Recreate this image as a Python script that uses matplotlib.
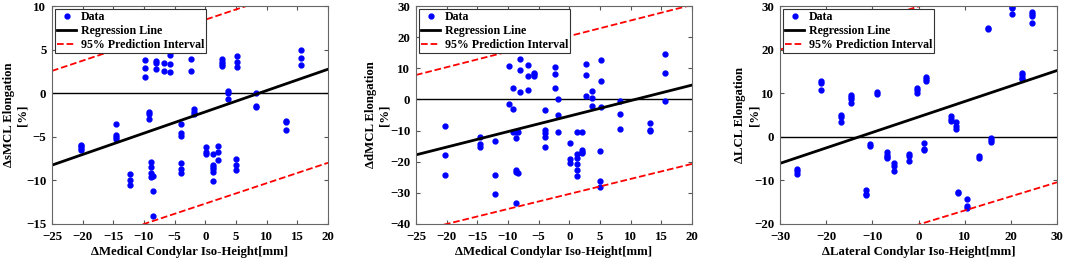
import numpy as np
import matplotlib.pyplot as plt

# panel 1: sMCL vs medial condylar iso-height
x1 = [-20.2]*4 + [-14.5]*4 + [-12.2]*3 + [-9.8]*3 + [-9.2]*3 + [-8.8]*4 + [-8.5]*3 + [-8.1]*3 \
     + [-6.8]*2 + [-5.7]*3 + [-4.0]*6 + [-2.4]*2 + [-1.8]*3 + [0.1]*3 + [1.2]*6 + [2.1]*3 \
     + [2.7]*4 + [3.7]*3 + [5.0]*3 + [5.2]*3 + [8.2]*3 + [13.2]*3 + [15.6]*3
y1 = [-5.9, -6.1, -6.3, -6.5, -3.5, -4.75, -5.0, -5.2, -9.3, -9.95, -10.5, 3.8, 2.85, 1.9,
      -2.2, -2.4, -3.0, -7.85, -8.5, -9.1, -9.65, -9.55, -11.2, -14.1, 3.65, 3.5, 2.8,
      3.46, 2.6, 4.35, 3.35, 2.4, -3.5, -4.6, -4.87, -8.0, -8.7, -9.2, 3.9, 2.5,
      -1.85, -2.1, -2.4, -6.2, -6.8, -7.0, -7.0, -8.2, -8.5, -8.75, -9.0, -10.1,
      -6.05, -6.8, -7.7, 3.9, 3.6, 3.35, 3.15, 0.2, 0.0, -0.65, -7.55, -8.2, -8.8,
      4.3, 3.6, 3.05, 0.0, -1.45, -1.6, -3.15, -3.35, -4.2, 5.0, 4.05, 3.25]
fit1 = [0.2444, -2.14]
upper1 = [0.235, 8.43]
lower1 = [0.234, -12.66]

# panel 2: dMCL vs medial condylar iso-height
x2 = [-20.2]*3 + [-14.5]*3 + [-12.2]*3 + [-9.9]*2 + [-9.2]*3 + [-8.7]*5 + [-8.4]*2 + [-8.0]*3 \
     + [-6.8]*3 + [-5.7]*3 + [-3.9]*5 + [-2.4]*3 + [-1.8]*3 + [0.1]*3 + [1.2]*6 + [2.1]*4 \
     + [2.7]*3 + [3.7]*3 + [5.0]*3 + [5.2]*3 + [8.2]*3 + [13.2]*3 + [15.6]*3
y2 = [-8.6, -17.8, -24.4, -12.0, -14.3, -15.4, -13.3, -24.4, -30.5, 10.8, -1.5,
      3.6, -3.2, -10.4, -10.4, -12.3, -22.8, -23.3, -33.4, -10.4, -23.5, 12.9, 9.45, 2.4,
      11.05, 7.5, 2.9, 8.6, 8.2, 7.5, -3.5, -9.8, -10.7, -12.0, -15.2, 10.5, 8.2, 3.6,
      0.1, -5.1, -10.5, -14.1, -19.2, -20.5, -10.5, -17.4, -18.9, -20.7, -22.7, -24.6,
      -10.5, -16.2, -16.8, -17.1, 11.4, 8.0, 1.1, 2.7, 0.35, -2.2, -16.5, -26.3, -28.1,
      12.7, 5.8, -2.3, -0.6, -4.8, -9.5, -7.6, -9.8, -10.2, 14.6, 8.4, -0.4]
fit2 = [0.498, -5.35]
upper2 = [0.5, 20.35]
lower2 = [0.4825, -30.35]

# panel 3: LCL vs lateral condylar iso-height
x3 = [-26.4]*3 + [-21.1]*3 + [-16.8]*3 + [-14.7]*4 + [-11.3]*3 + [-10.6]*2 + [-8.9]*2 + [-6.8]*4 \
     + [-5.3]*3 + [-2.1]*3 + [-0.4]*3 + [1.1]*3 + [1.7]*3 + [7.0]*3 + [8.2]*3 + [8.5]*2 \
     + [10.5]*3 + [13.2]*2 + [15.0]*2 + [15.6]*3 + [20.2]*3 + [22.4]*4 + [24.5]*4
y3 = [-7.4, -7.8, -8.6, 12.8, 12.3, 10.7, 5.0, 4.5, 3.4, 9.5, 9.05, 8.7, 7.8,
      -12.2, -13.1, -13.3, -1.7, -2.0, 10.35, 9.9, -3.6, -4.2, -4.55, -4.8, -6.1, -6.6, -7.8,
      -4.0, -4.5, -5.5, 11.3, 10.7, 10.0, -1.35, -2.8, -3.1, 13.7, 13.3, 12.7,
      4.85, 4.15, 3.7, 3.5, 2.5, 1.9, -12.7, -13.0, -14.3, -15.8, -16.4, -4.4, -4.85,
      25.0, 24.65, -0.2, -0.65, -1.1, 29.85, 29.5, 28.1, 14.7, 14.1, 13.6, 13.2,
      28.7, 28.2, 27.7, 26.0]
fit3 = [0.355, 4.55]
upper3 = [0.33, 29.9]
lower3 = [0.323, -20.13]

panels = [
    (x1, y1, fit1, upper1, lower1, (-25, 20), (-15, 10), np.arange(-25, 21, 5), np.arange(-15, 11, 5),
     '\u0394Medical Condylar Iso-Height[mm]', '\u0394sMCL Elongation\n[%]', -0.085),
    (x2, y2, fit2, upper2, lower2, (-25, 20), (-40, 30), np.arange(-25, 21, 5), np.arange(-40, 31, 10),
     '\u0394Medical Condylar Iso-Height[mm]', '\u0394dMCL Elongation\n[%]', -0.093),
    (x3, y3, fit3, upper3, lower3, (-30, 30), (-20, 30), np.arange(-30, 31, 10), np.arange(-20, 31, 10),
     '\u0394Lateral Condylar Iso-Height[mm]', '\u0394LCL Elongation\n[%]', -0.072),
]
positions = [[0.0488, 0.1418, 0.2592, 0.8352],
             [0.3906, 0.1418, 0.2592, 0.8352],
             [0.7324, 0.1418, 0.2601, 0.8352]]

plt.rcParams['font.family'] = 'Liberation Serif'
plt.rcParams['font.weight'] = 'bold'
plt.rcParams['font.size'] = 9.3

fig = plt.figure(figsize=(10.65, 2.61), dpi=100)
for pos, (x, y, fit, up, lo, xl, yl, xt, yt, xlab, ylab, ylx) in zip(positions, panels):
    ax = fig.add_axes(pos)
    xx = np.array(xl, dtype=float)
    ax.axhline(0, color='k', lw=1)
    ax.plot(x, y, '.', color='blue', ms=7, label='Data')
    ax.plot(xx, np.polyval(fit, xx), 'k-', lw=2, label='Regression Line')
    ax.plot(xx, np.polyval(up, xx), '--', color='red', lw=1.3, label='95% Prediction Interval')
    ax.plot(xx, np.polyval(lo, xx), '--', color='red', lw=1.3)
    ax.set_xlim(xl)
    ax.set_ylim(yl)
    ax.set_xticks(xt)
    ax.set_yticks(yt)
    ax.tick_params(direction='in', top=True, right=True, length=3, color='#555555')
    ax.tick_params(axis='x', pad=5)
    ax.tick_params(axis='y', pad=4)
    for s in ax.spines.values():
        s.set_color('#666666')
    ax.set_xlabel(xlab, fontweight='bold', fontsize=9.2, labelpad=2)
    ax.set_ylabel(ylab, fontweight='bold', fontsize=9.2)
    ax.yaxis.set_label_coords(ylx, 0.5)
    leg = ax.legend(loc='upper left', fancybox=False, framealpha=1, edgecolor='#333333',
                    borderpad=0.2, labelspacing=0.15, handlelength=1.6, handletextpad=0.35,
                    borderaxespad=0.25, prop={'weight': 'bold', 'size': 8.6})
    leg.get_frame().set_linewidth(0.8)

fig.savefig('out.png', dpi=100)
